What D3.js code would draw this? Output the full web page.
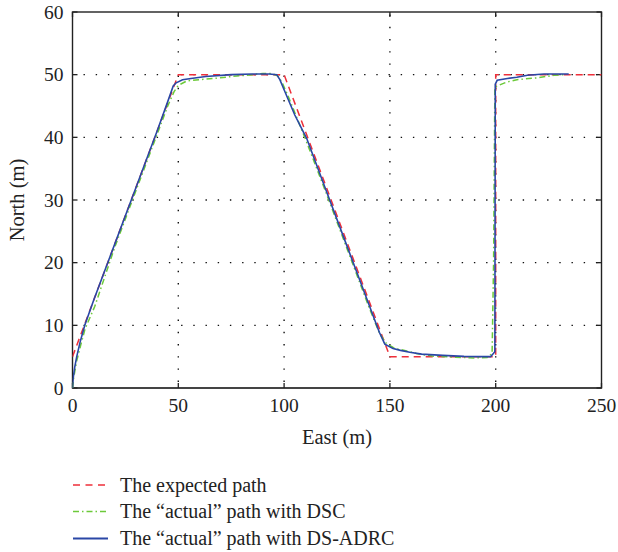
<!DOCTYPE html>
<html><head><meta charset="utf-8">
<script src="https://cdn.jsdelivr.net/npm/d3@7/dist/d3.min.js"></script>
<style>body{margin:0;background:#fff}svg{display:block}text{font-family:"Liberation Serif","Times New Roman",serif;fill:#222}</style>
</head><body><svg id="c" width="618" height="552"></svg>
<script>
const xTicks = [0, 50, 100, 150, 200, 250];
const yTicks = [0, 10, 20, 30, 40, 50, 60];

const expectedEast  = [0, 50, 100, 150, 200, 200, 250];
const expectedNorth = [5, 50, 50, 5, 5, 50, 50];

const dscEast  = [0, 0.5, 1.9, 4, 6, 10.5, 20, 30, 40, 45, 48, 50, 54, 60, 67, 75, 85, 90, 94, 97, 99, 102, 110, 120, 130, 140, 145, 148, 152.4, 157, 162.5, 170, 181, 190, 196, 198.3, 199, 199.6, 201.4, 205, 210, 219.7, 227.5, 233];
const dscNorth = [0, 1.5, 4.2, 7, 9.5, 13, 22.5, 31.5, 40.5, 45, 47.3, 48.3, 49.0, 49.2, 49.4, 49.7, 50.0, 50.2, 50.2, 49.8, 48.8, 46.5, 39.8, 31, 22, 13, 8.8, 7.2, 6.3, 6.0, 5.5, 5.1, 4.9, 4.8, 4.85, 5.5, 20, 48, 48.3, 48.8, 49.2, 49.5, 49.9, 50];

const adrcEast  = [0, 0.3, 1, 2, 3.5, 5.8, 10, 20, 30, 40, 45, 47.6, 49, 52, 56, 63, 75, 85, 93, 96.5, 98, 100, 105, 110.7, 120, 130, 140, 145, 147.6, 151.5, 155, 159.4, 165, 175, 185, 194, 197.6, 199.6, 199.8, 200.7, 205.5, 210, 215, 222.8, 234.5];
const adrcNorth = [0, 1.5, 3.2, 5, 7.2, 10, 14, 23, 32, 41, 45.7, 48.2, 48.7, 49.2, 49.4, 49.7, 50, 50.1, 50.1, 50, 49.2, 47.6, 43.6, 39.8, 31.4, 22.4, 13.4, 8.9, 7.0, 6.3, 6.0, 5.7, 5.4, 5.2, 5.05, 5.0, 5.0, 5.8, 48.5, 49.1, 49.4, 49.6, 49.9, 50.1, 50.1];

const legendLabels = ["The expected path", "The \u201cactual\u201d path with DSC", "The \u201cactual\u201d path with DS-ADRC"];

const svg = d3.select("#c");
const L = 72.5, R = 601.5, T = 12, B = 388;
const x = d3.scaleLinear().domain([0, 250]).range([L, R]);
const y = d3.scaleLinear().domain([0, 60]).range([B, T]);

// grid
const g = svg.append("g");
g.selectAll(".gx").data(xTicks.filter(d => d > 0 && d < 250)).enter().append("line")
  .attr("x1", d => x(d)).attr("x2", d => x(d)).attr("y1", B).attr("y2", T)
  .attr("stroke", "#111").attr("stroke-width", 1.4).attr("stroke-dasharray", "1.4,10.8").attr("stroke-dashoffset", -6);
g.selectAll(".gy").data(yTicks.filter(d => d > 0 && d < 60)).enter().append("line")
  .attr("x1", L).attr("x2", R).attr("y1", d => y(d)).attr("y2", d => y(d))
  .attr("stroke", "#111").attr("stroke-width", 1.4).attr("stroke-dasharray", "1.4,10.8").attr("stroke-dashoffset", -11);

// frame
svg.append("rect").attr("x", L).attr("y", T).attr("width", R - L).attr("height", B - T)
  .attr("fill", "none").attr("stroke", "#222").attr("stroke-width", 1.4);
svg.append("line").attr("x1", L).attr("x2", R).attr("y1", B).attr("y2", B).attr("stroke", "#444").attr("stroke-width", 2);

// ticks inward
const tl = 5;
xTicks.forEach(d => {
  svg.append("line").attr("x1", x(d)).attr("x2", x(d)).attr("y1", B).attr("y2", B - tl).attr("stroke", "#222").attr("stroke-width", 1.3);
  svg.append("line").attr("x1", x(d)).attr("x2", x(d)).attr("y1", T).attr("y2", T + tl).attr("stroke", "#222").attr("stroke-width", 1.3);
});
yTicks.forEach(d => {
  svg.append("line").attr("x1", L).attr("x2", L + tl).attr("y1", y(d)).attr("y2", y(d)).attr("stroke", "#222").attr("stroke-width", 1.3);
  svg.append("line").attr("x1", R).attr("x2", R - tl).attr("y1", y(d)).attr("y2", y(d)).attr("stroke", "#222").attr("stroke-width", 1.3);
});

// tick labels
svg.selectAll(".xl").data(xTicks).enter().append("text")
  .attr("x", d => x(d)).attr("y", B + 24).attr("text-anchor", "middle").attr("font-size", 19.5).text(d => d);
svg.selectAll(".yl").data(yTicks).enter().append("text")
  .attr("x", L - 9).attr("y", d => y(d) + 6.5).attr("text-anchor", "end").attr("font-size", 19.5).text(d => d);

svg.append("text").attr("x", (L + R) / 2).attr("y", 444).attr("text-anchor", "middle").attr("font-size", 20.5).text("East (m)");
svg.append("text").attr("transform", "translate(24," + ((T + B) / 2) + ") rotate(-90)").attr("text-anchor", "middle").attr("font-size", 20.5).text("North (m)");

// lines
const line = d3.line().x(d => x(d[0])).y(d => y(d[1]));
const zip = (a, b) => a.map((v, i) => [v, b[i]]);
svg.append("clipPath").attr("id", "pc").append("rect").attr("x", L).attr("y", T - 2).attr("width", R - L).attr("height", B - T + 2);
const styles = [
  {color: "#ee2f3a", dash: "7,5", w: 1.5},
  {color: "#6cc93a", dash: "6,3,1.5,3", w: 1.5},
  {color: "#2a47a6", dash: null, w: 1.6}
];
const series = [zip(expectedEast, expectedNorth), zip(dscEast, dscNorth), zip(adrcEast, adrcNorth)];
series.forEach((s, i) => {
  svg.append("path").attr("d", line(s)).attr("fill", "none").attr("clip-path", "url(#pc)")
    .attr("stroke", styles[i].color).attr("stroke-width", styles[i].w)
    .attr("stroke-dasharray", styles[i].dash);
});

// legend
const ly = [485, 511.5, 538.5];
legendLabels.forEach((t, i) => {
  svg.append("line").attr("x1", 73).attr("x2", 108).attr("y1", ly[i]).attr("y2", ly[i])
    .attr("stroke", styles[i].color).attr("stroke-width", i === 2 ? 2 : 1.5)
    .attr("stroke-dasharray", i === 0 ? "7,5.5" : (i === 1 ? "6,3,1.5,3" : null));
  svg.append("text").attr("x", 120).attr("y", ly[i] + 6.5).attr("font-size", 20).text(t);
});
</script></body></html>
